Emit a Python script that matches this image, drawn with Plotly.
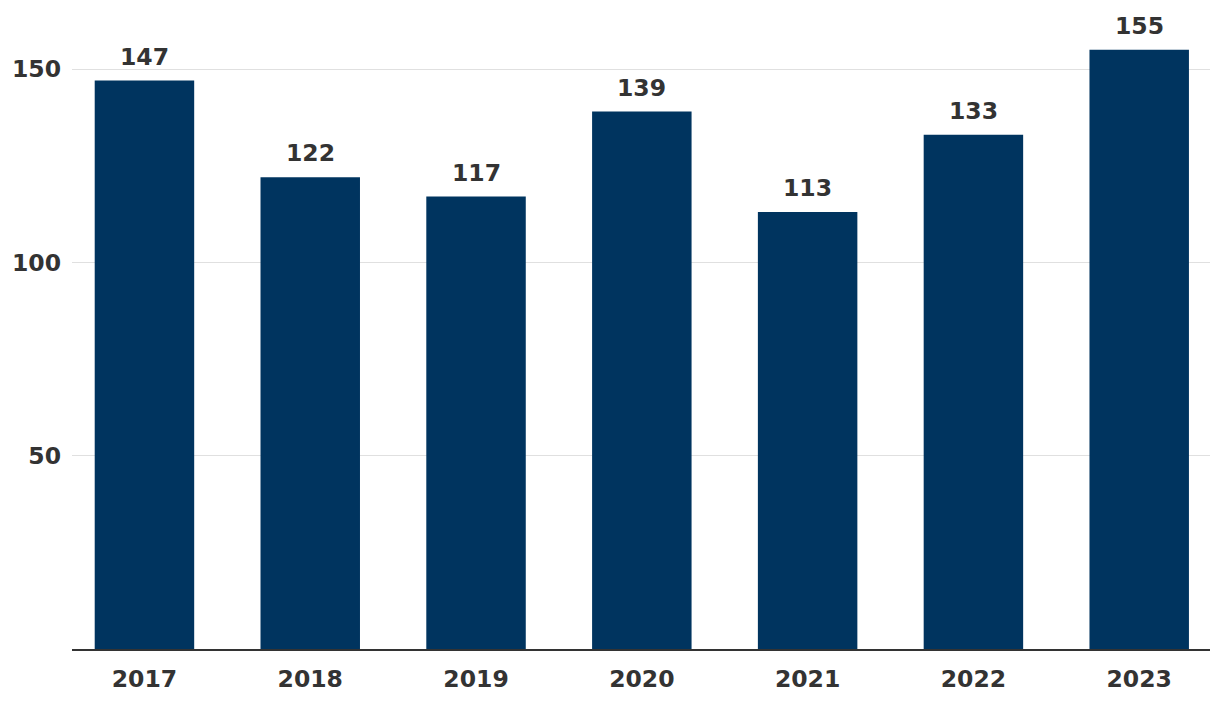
import plotly.graph_objects as go

years = ["2017", "2018", "2019", "2020", "2021", "2022", "2023"]
values = [147, 122, 117, 139, 113, 133, 155]
y_ticks = [50, 100, 150]

FONT = "DejaVu Sans"
TXT = "#333333"
FS = 23.5

fig = go.Figure()
fig.add_trace(go.Bar(x=list(range(len(years))), y=values, width=0.6,
                     marker=dict(color="#00345f", line=dict(width=0)), hoverinfo="skip"))

for i, v in enumerate(values):
    fig.add_annotation(x=i, y=v, xref="x", yref="y", text=str(v), showarrow=False,
                       yanchor="bottom", yshift=8,
                       font=dict(family=FONT, size=FS, color=TXT, weight="bold"))

fig.update_layout(
    width=1220, height=708,
    margin=dict(l=72, r=10, t=11, b=59),
    plot_bgcolor="white", paper_bgcolor="white",
    showlegend=False,
    font=dict(family=FONT, size=FS, color=TXT),
)
fig.update_xaxes(range=[-0.437, 6.427], tickvals=list(range(len(years))), ticktext=years,
                 showline=True, linecolor="#333333", linewidth=2,
                 showgrid=False, zeroline=False, ticks="",
                 tickfont=dict(family=FONT, size=FS, color=TXT, weight="bold"),
                 ticklabelstandoff=8)
fig.update_yaxes(range=[0, 165], tickvals=y_ticks, showgrid=True, gridcolor="#e0e0e0", gridwidth=1,
                 zeroline=False, showline=False, ticks="",
                 tickfont=dict(family=FONT, size=FS, color=TXT, weight="bold"),
                 ticklabelstandoff=10)

fig.write_html("out.html")
